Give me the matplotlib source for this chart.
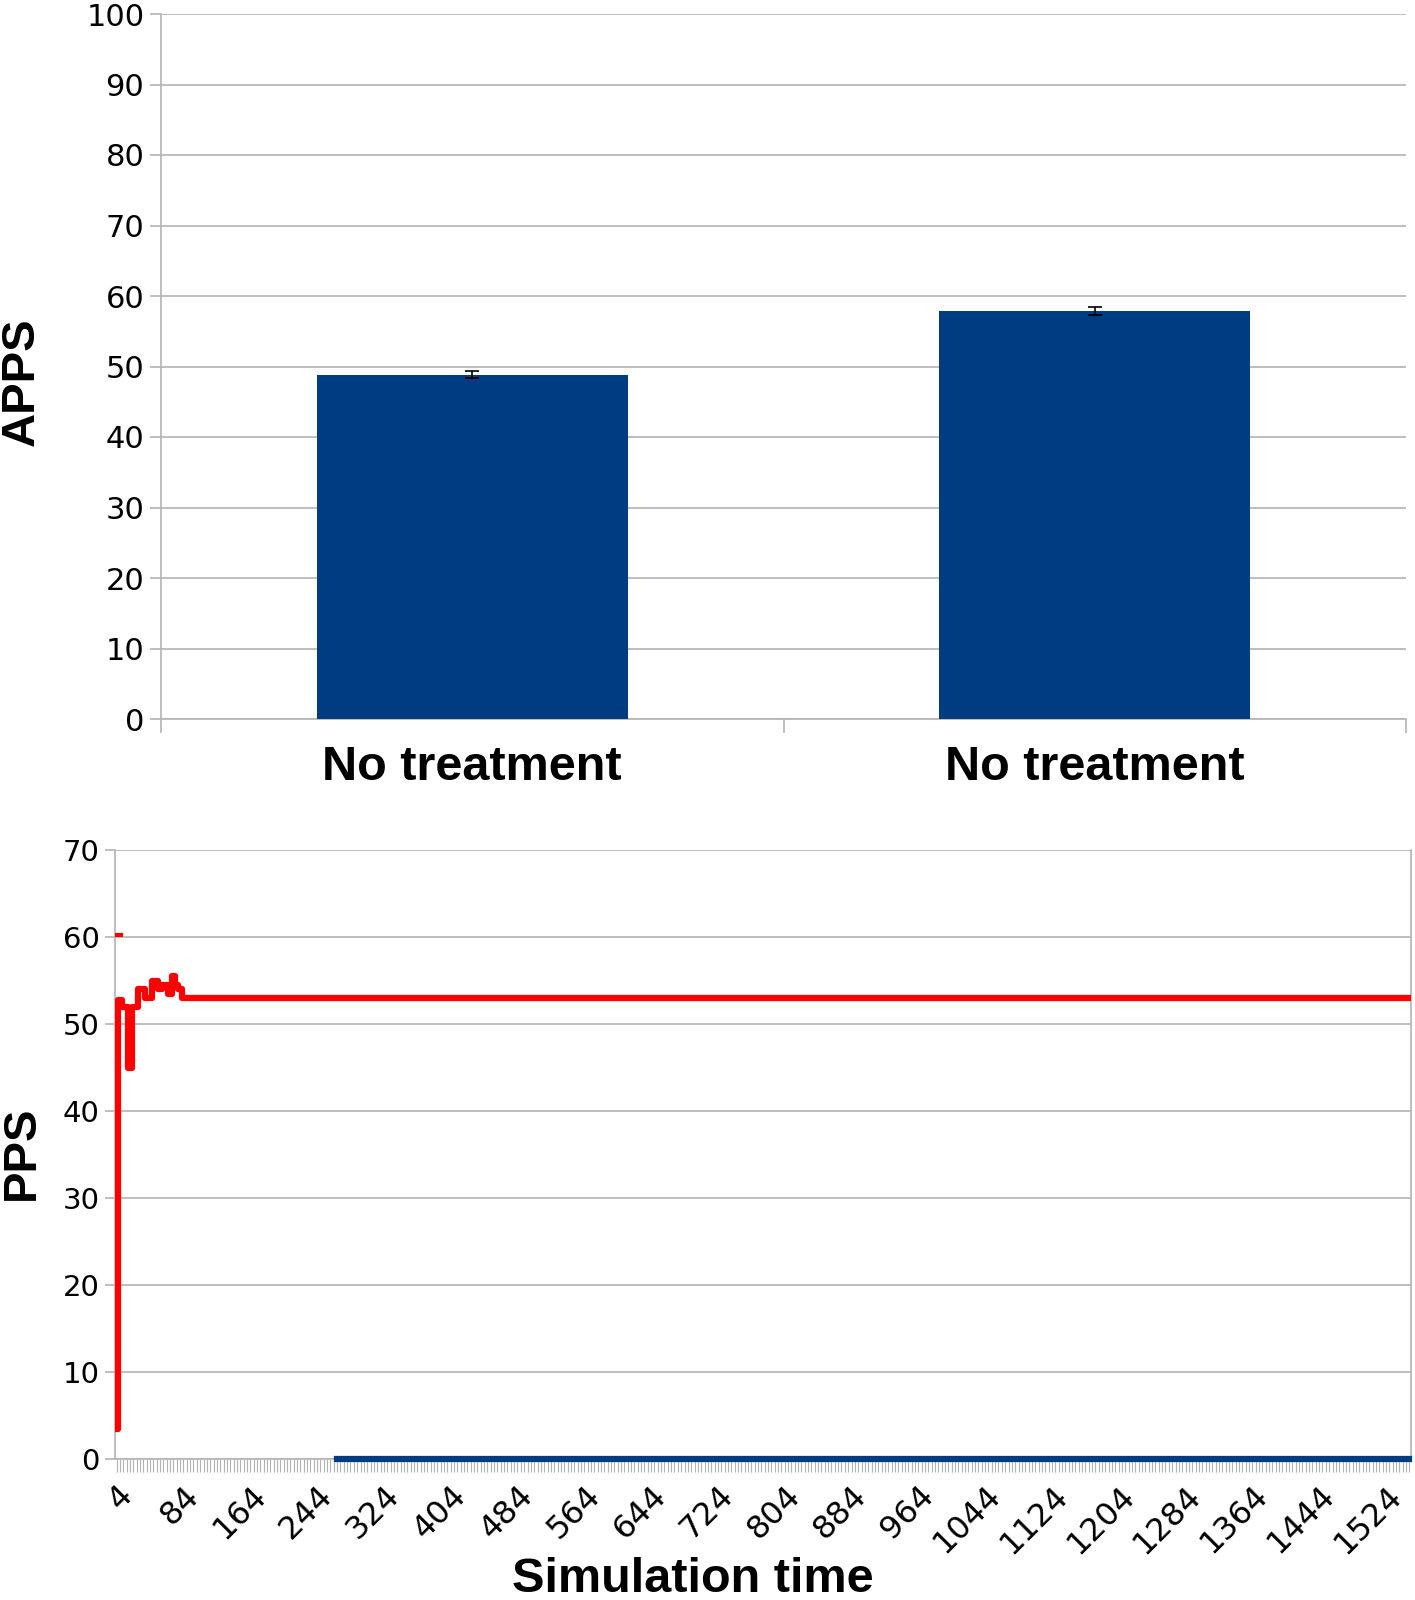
import numpy as np
import matplotlib.pyplot as plt

# top chart data
groups = ['No treatment', 'No treatment']
apps = [48.8, 57.9]
apps_err = [0.5, 0.6]

# bottom chart data (time step 4)
n_steps = 388
sim_time = [4 + 4 * i for i in range(n_steps)]
pps_start = [3.5, 52.8, 52, 52, 45, 52, 52, 54, 54, 53, 53, 55, 55, 54, 54.5,
             54.5, 53.5, 55.5, 54.5, 54, 53]
pps_flat = 53.0
pps_red = pps_start + [pps_flat] * (n_steps - len(pps_start))
blue_from = 268
pps_blue = [np.nan if t < blue_from else 0.0 for t in sim_time]
spike_time = 4
spike_val = 60.2

bar_col = '#003c82'
grid_col = '#b3b3b3'
bold = 'Liberation Sans'

fig = plt.figure(figsize=(14.15, 16), dpi=100)

# ---- top: bar chart
ax1 = fig.add_axes([161/1415, 1-719/1600, 1245/1415, 705/1600])
x = np.arange(len(groups))
ax1.bar(x, apps, width=0.5, color=bar_col, zorder=3)
ax1.errorbar(x, apps, yerr=apps_err, fmt='none', ecolor='black',
             elinewidth=1.2, capsize=5, capthick=1.2, zorder=4)
ax1.set_xlim(-0.5, 1.5)
ax1.set_ylim(0, 100)
ax1.set_yticks(range(0, 101, 10))
ax1.yaxis.grid(True, color=grid_col, linewidth=1.2, zorder=0)
ax1.set_xticks([-0.5, 0.5, 1.5])
ax1.set_xticklabels([])
ax1.set_xticks(x, minor=True)
ax1.set_xticklabels(groups, minor=True, fontsize=35, fontweight='bold', family=bold)
ax1.tick_params(axis='x', which='minor', length=0, pad=19)
ax1.tick_params(axis='x', which='major', length=10, color=grid_col, width=1.2)
ax1.tick_params(axis='y', labelsize=22, length=8, color=grid_col, width=1.2, pad=4)
for s in ['top', 'right']:
    ax1.spines[s].set_visible(False)
for s in ['left', 'bottom']:
    ax1.spines[s].set_color(grid_col)
    ax1.spines[s].set_linewidth(1.2)
fig.text(22/1415, 1-382/1600, 'APPS', rotation=90, ha='center', va='center',
         fontsize=34, fontweight='bold', family=bold)

# ---- bottom: line chart
ax2 = fig.add_axes([115/1415, 0.088125, 1296/1415, 609/1600])
xi = np.arange(n_steps)
ax2.plot(xi, pps_blue, color=bar_col, linewidth=4.5, zorder=3, clip_on=False)
ax2.plot(xi, pps_red, color='#ff0000', linewidth=4.5, zorder=4,
         drawstyle='steps-mid')
ax2.plot([sim_time.index(spike_time)], [spike_val], marker='_', color='#ff0000',
         markersize=8, markeredgewidth=3, zorder=4)
ax2.set_xlim(-0.5, n_steps - 0.5)
ax2.set_ylim(0, 70)
ax2.set_yticks(range(0, 71, 10))
ax2.yaxis.grid(True, color=grid_col, linewidth=1.2, zorder=0)
ax2.set_xticks(xi)
ax2.set_xticklabels([str(t) if i % 20 == 0 else '' for i, t in enumerate(sim_time)],
                    rotation=45, ha='right', rotation_mode='anchor', fontsize=23)
ax2.tick_params(axis='x', length=9, color=grid_col, width=0.8, pad=6)
ax2.tick_params(axis='y', labelsize=21, length=7, color=grid_col, width=1.2, pad=4)
for s in ax2.spines.values():
    s.set_color(grid_col)
    s.set_linewidth(1.2)
ax2.spines['top'].set_visible(False)
fig.text(22/1415, 1-1153/1600, 'PPS', rotation=90, ha='center', va='center',
         fontsize=34, fontweight='bold', family=bold)
fig.text(693/1415, 1-1580/1600, 'Simulation time', ha='center', va='center',
         fontsize=35, fontweight='bold', family=bold)

fig.savefig('out.png', dpi=100, facecolor='white')
